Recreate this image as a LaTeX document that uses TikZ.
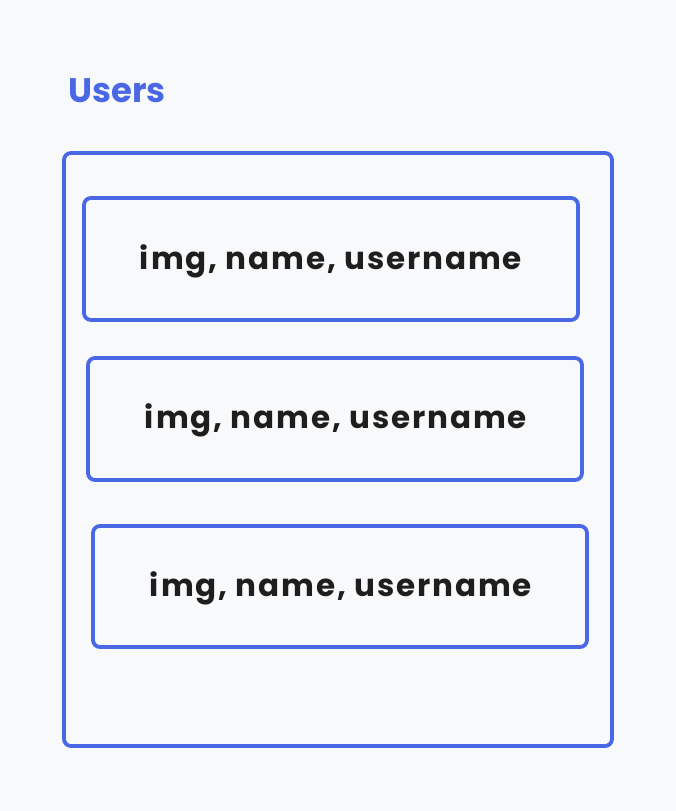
\documentclass[tikz,border=0pt]{standalone}
\usepackage{fontspec}
\setmainfont{Poppins}[LetterSpace=6]
\newfontfamily\titlefont{Poppins}
\definecolor{bg}{HTML}{F8F9FB}
\definecolor{ublue}{HTML}{4A68E6}
\definecolor{ink}{HTML}{1E1E1E}
\tikzset{
  box/.style={draw=ublue, line width=3.8pt, rounded corners=7pt},
  lbl/.style={text=ink, font=\fontsize{31}{34}\selectfont\bfseries, inner sep=0pt},
}
\begin{document}
\begin{tikzpicture}[x=1pt,y=-1pt]
\fill[bg] (0,0) rectangle (676,811);
\useasboundingbox (0,0) rectangle (676,811);
\node[anchor=base west, inner sep=0pt, text=ublue, font=\titlefont\fontsize{34}{38}\selectfont\bfseries] (title) at (68,102) {Users};
\draw[box] (64,153) rectangle (612,746);
\draw[box] (84,198) rectangle (578,320);
\draw[box] (88,358) rectangle (582,480);
\draw[box] (93,526) rectangle (587,647);
\node[lbl] (t1) at (331,261) {img, name, username};
\node[lbl] (t2) at (336,420) {img, name, username};
\node[lbl] (t3) at (341,588) {img, name, username};
\end{tikzpicture}
\end{document}
